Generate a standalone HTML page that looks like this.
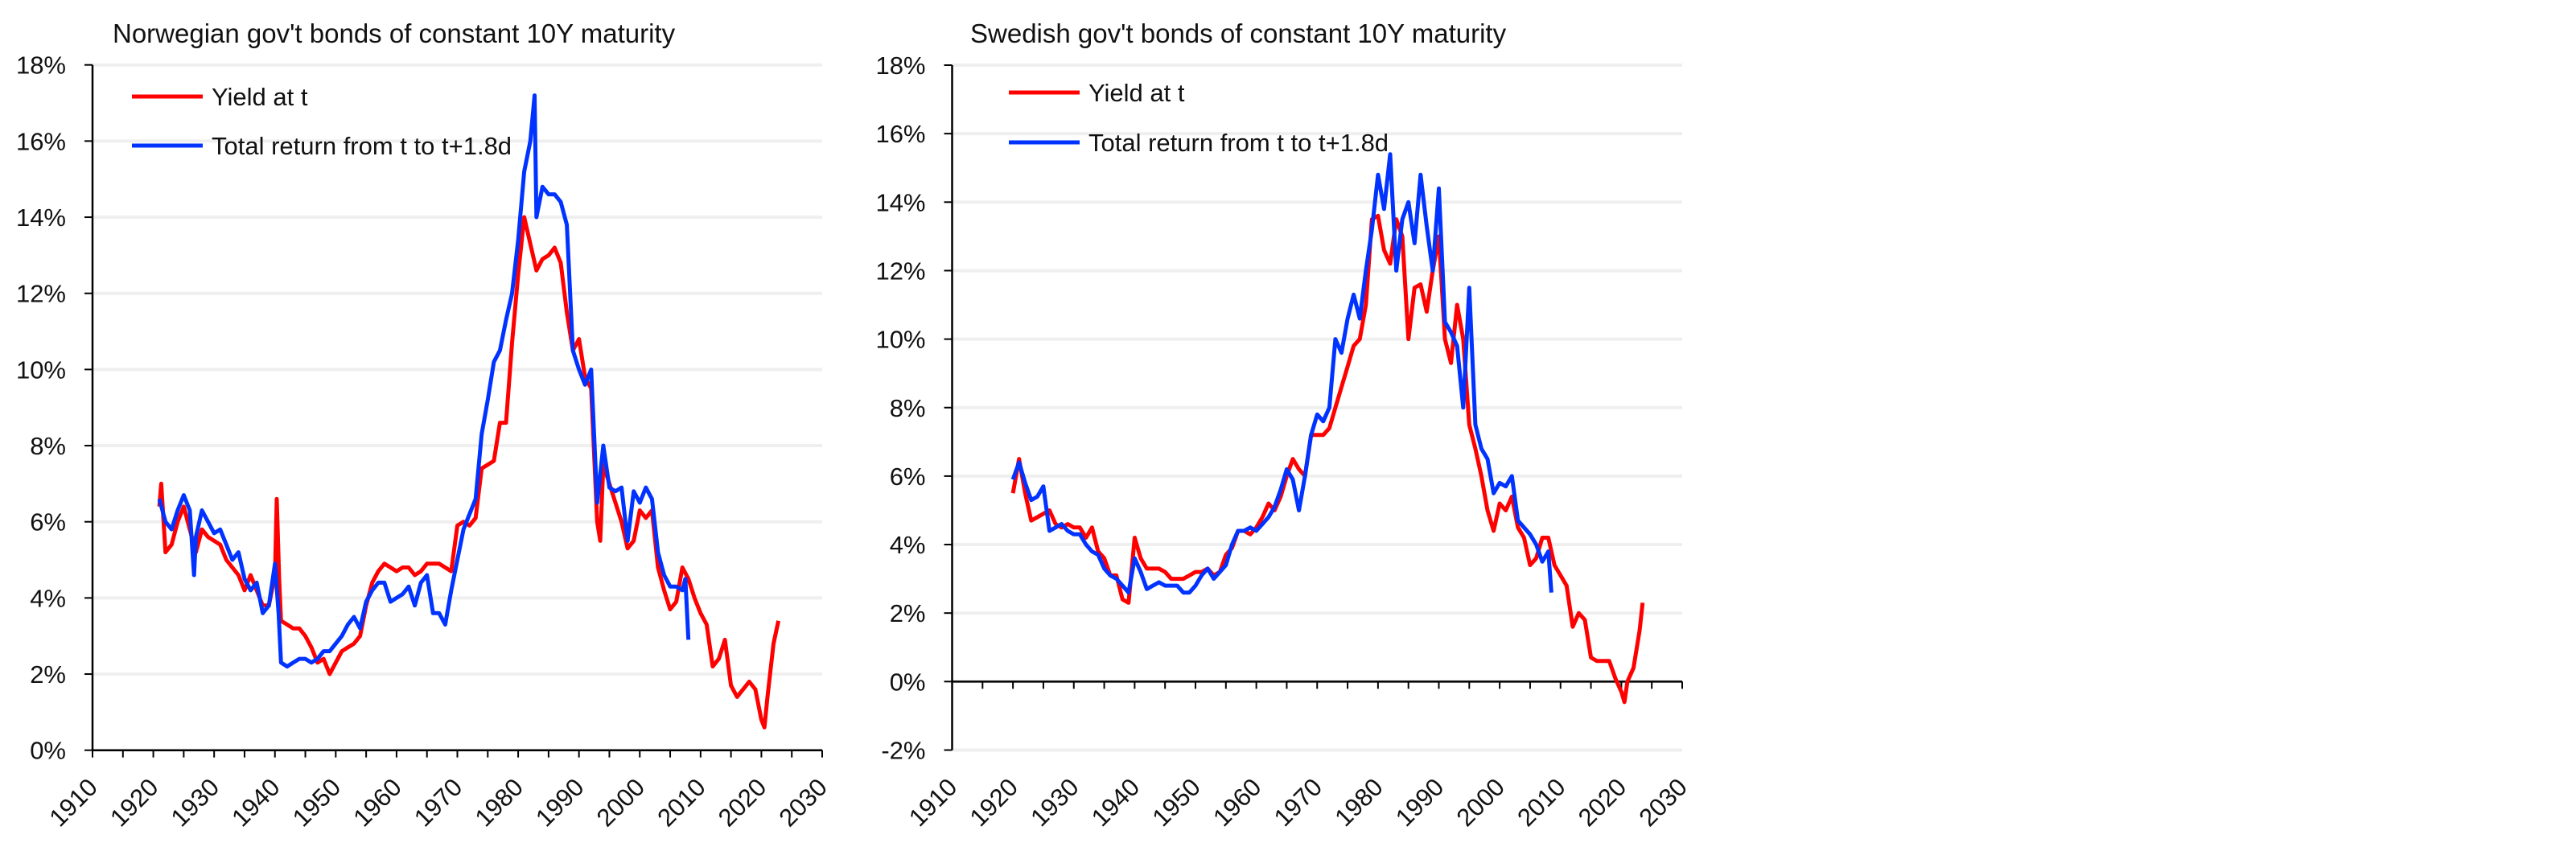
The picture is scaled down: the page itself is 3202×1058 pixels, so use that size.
<!DOCTYPE html>
<html><head><meta charset="utf-8"><style>
html,body{margin:0;padding:0;background:#fff;}
svg{display:block;font-family:"Liberation Sans",sans-serif;}
</style></head><body>
<svg id="c" width="3202" height="1058" viewBox="0 0 3202 1058" xmlns="http://www.w3.org/2000/svg"></svg>
<script>
// ---- Norway data ----
const noYieldYears=[1921,1921.3,1922,1923,1924,1925,1926,1927,1928,1929,1930,1931,1932,1933,1934,1935,1936,1937,1938,1939,1940,1940.3,1940.7,1941,1942,1943,1944,1945,1946,1947,1948,1949,1950,1951,1952,1953,1954,1955,1956,1957,1958,1959,1960,1961,1962,1963,1964,1965,1966,1967,1968,1969,1970,1971,1972,1973,1974,1975,1976,1977,1978,1979,1980,1981,1982,1983,1984,1985,1986,1987,1988,1989,1990,1991,1992,1993,1993.5,1994,1995,1996,1997,1998,1999,2000,2001,2002,2003,2004,2005,2006,2007,2008,2009,2010,2011,2012,2013,2014,2015,2016,2017,2018,2019,2020,2020.5,2021,2022,2022.8];
const noYield=[6.4,7.0,5.2,5.4,6.0,6.4,5.8,5.2,5.8,5.6,5.5,5.4,5.0,4.8,4.6,4.2,4.6,4.2,3.8,3.8,4.6,6.6,4.5,3.4,3.3,3.2,3.2,3.0,2.7,2.3,2.4,2.0,2.3,2.6,2.7,2.8,3.0,3.8,4.4,4.7,4.9,4.8,4.7,4.8,4.8,4.6,4.7,4.9,4.9,4.9,4.8,4.7,5.9,6.0,5.9,6.1,7.4,7.5,7.6,8.6,8.6,10.7,12.5,14.0,13.3,12.6,12.9,13.0,13.2,12.8,11.5,10.5,10.8,9.8,9.5,6.0,5.5,7.5,7.0,6.5,6.0,5.3,5.5,6.3,6.1,6.3,4.8,4.2,3.7,3.9,4.8,4.5,4.0,3.6,3.3,2.2,2.4,2.9,1.7,1.4,1.6,1.8,1.6,0.8,0.6,1.4,2.8,3.4];
const noRetYears=[1921,1922,1923,1924,1925,1926,1926.7,1927,1928,1929,1930,1931,1932,1933,1934,1935,1936,1937,1938,1939,1940,1940.6,1941,1942,1943,1944,1945,1946,1947,1948,1949,1950,1951,1952,1953,1954,1955,1956,1957,1958,1959,1960,1961,1962,1963,1964,1965,1966,1967,1968,1969,1970,1971,1972,1973,1974,1975,1976,1977,1978,1979,1980,1981,1982,1982.7,1983,1984,1985,1986,1987,1988,1989,1990,1991,1992,1993,1994,1995,1996,1997,1998,1999,2000,2001,2002,2003,2004,2005,2006,2007,2007.5,2008];
const noRet=[6.6,6.0,5.8,6.3,6.7,6.3,4.6,5.6,6.3,6.0,5.7,5.8,5.4,5.0,5.2,4.5,4.2,4.4,3.6,3.8,4.9,3.6,2.3,2.2,2.3,2.4,2.4,2.3,2.4,2.6,2.6,2.8,3.0,3.3,3.5,3.2,3.9,4.2,4.4,4.4,3.9,4.0,4.1,4.3,3.8,4.4,4.6,3.6,3.6,3.3,4.2,5.0,5.8,6.2,6.6,8.3,9.2,10.2,10.5,11.3,12.0,13.4,15.2,16.0,17.2,14.0,14.8,14.6,14.6,14.4,13.8,10.5,10.0,9.6,10.0,6.5,8.0,6.9,6.8,6.9,5.5,6.8,6.5,6.9,6.6,5.2,4.6,4.3,4.3,4.2,4.5,2.9];
// ---- Sweden data ----
const seYieldYears=[1920,1921,1922,1923,1924,1925,1926,1927,1928,1929,1930,1931,1932,1933,1934,1935,1936,1937,1938,1939,1940,1941,1942,1943,1944,1945,1946,1947,1948,1949,1950,1951,1952,1953,1954,1955,1956,1957,1958,1959,1960,1961,1962,1963,1964,1965,1966,1967,1968,1969,1970,1971,1972,1973,1974,1975,1976,1977,1978,1979,1980,1981,1982,1983,1984,1985,1986,1987,1988,1989,1990,1991,1992,1993,1994,1995,1996,1997,1998,1999,2000,2001,2002,2003,2004,2005,2006,2007,2008,2009,2010,2011,2012,2013,2014,2015,2016,2017,2018,2019,2020,2020.5,2021,2022,2023,2023.5];
const seYield=[5.5,6.5,5.5,4.7,4.8,4.9,5.0,4.6,4.5,4.6,4.5,4.5,4.2,4.5,3.8,3.6,3.1,3.1,2.4,2.3,4.2,3.6,3.3,3.3,3.3,3.2,3.0,3.0,3.0,3.1,3.2,3.2,3.3,3.1,3.2,3.7,3.9,4.4,4.4,4.3,4.5,4.8,5.2,5.0,5.4,6.0,6.5,6.2,6.0,7.2,7.2,7.2,7.4,8.0,8.6,9.2,9.8,10.0,11.0,13.5,13.6,12.6,12.2,13.5,13.0,10.0,11.5,11.6,10.8,12.0,13.0,10.0,9.3,11.0,10.0,7.5,6.8,6.0,5.0,4.4,5.2,5.0,5.4,4.5,4.2,3.4,3.6,4.2,4.2,3.4,3.1,2.8,1.6,2.0,1.8,0.7,0.6,0.6,0.6,0.1,-0.3,-0.6,0.0,0.4,1.5,2.3];
const seRetYears=[1920,1921,1922,1923,1924,1925,1926,1927,1928,1929,1930,1931,1932,1933,1934,1935,1936,1937,1938,1939,1940,1941,1942,1943,1944,1945,1946,1947,1948,1949,1950,1951,1952,1953,1954,1955,1956,1957,1958,1959,1960,1961,1962,1963,1964,1965,1966,1967,1968,1969,1970,1971,1972,1973,1974,1975,1976,1977,1978,1979,1980,1981,1982,1983,1984,1985,1986,1987,1988,1989,1990,1991,1992,1993,1994,1995,1996,1997,1998,1999,2000,2001,2002,2003,2004,2005,2006,2007,2008,2008.5];
const seRet=[5.9,6.4,5.8,5.3,5.4,5.7,4.4,4.5,4.6,4.4,4.3,4.3,4.0,3.8,3.7,3.3,3.1,3.0,2.8,2.6,3.6,3.2,2.7,2.8,2.9,2.8,2.8,2.8,2.6,2.6,2.8,3.1,3.3,3.0,3.2,3.4,4.0,4.4,4.4,4.5,4.4,4.6,4.8,5.1,5.6,6.2,5.9,5.0,6.0,7.2,7.8,7.6,8.0,10.0,9.6,10.6,11.3,10.6,12.0,13.2,14.8,13.8,15.4,12.0,13.5,14.0,12.8,14.8,13.3,12.0,14.4,10.5,10.2,9.8,8.0,11.5,7.5,6.8,6.5,5.5,5.8,5.7,6.0,4.7,4.5,4.3,4.0,3.5,3.8,2.6];
const xTicks=[1910,1920,1930,1940,1950,1960,1970,1980,1990,2000,2010,2020,2030];
const noYTicks=[0,2,4,6,8,10,12,14,16,18];
const seYTicks=[-2,0,2,4,6,8,10,12,14,16,18];

const svg=document.getElementById('c');
const NS='http://www.w3.org/2000/svg';
function mk(tag,attrs,parent){const e=document.createElementNS(NS,tag);for(const k in attrs)e.setAttribute(k,attrs[k]);(parent||svg).appendChild(e);return e;}

function drawChart(cfg){
  const g=mk('g',{});
  
  
  const x=yr=>cfg.x0+(yr-1910)/120*(cfg.x1-cfg.x0);
  const y=v=>cfg.yTop+(cfg.ymax-v)/(cfg.ymax-cfg.ymin)*(cfg.yBot-cfg.yTop);
  const t=mk('text',{x:cfg.titleX,y:53,'font-size':33,fill:'#111'},g);
  t.textContent=cfg.title;
  
  
  cfg.yTicks.forEach(v=>{
    const gl=mk('line',{x1:cfg.x0,x2:cfg.x1,y1:y(v),y2:y(v),stroke:'#efefef','stroke-width':4},g);
    
    
    mk('line',{x1:cfg.x0-10,x2:cfg.x0,y1:y(v),y2:y(v),stroke:'#000','stroke-width':2},g);
    const lb=mk('text',{x:cfg.x0-33,y:y(v)+11,'font-size':31,'text-anchor':'end',fill:'#111'},g);
    lb.textContent=v+'%';
    
    
  });
  const ax=mk('line',{x1:cfg.x0,x2:cfg.x0,y1:y(cfg.ymax),y2:y(cfg.ymin),stroke:'#000','stroke-width':2.5},g);
  
  
  const xa=mk('line',{x1:cfg.x0,x2:cfg.x1,y1:y(0),y2:y(0),stroke:'#000','stroke-width':2.5},g);
  
  
  for(let yr=1910;yr<=2030;yr+=5){
    mk('line',{x1:x(yr),x2:x(yr),y1:y(0),y2:y(0)+9,stroke:'#000','stroke-width':2},g);
  }
  xTicks.forEach(yr=>{
    const tx=x(yr)+8, ty=cfg.yBot+48;
    const lb=mk('text',{transform:`translate(${tx},${ty}) rotate(-45)`,'font-size':31,'text-anchor':'end',fill:'#111'},g);
    lb.textContent=yr;
    
    
  });
  const line=(ys,vs,col,nm)=>{
    const d=ys.map((yr,i)=>(i?'L':'M')+x(yr).toFixed(1)+','+y(vs[i]).toFixed(1)).join('');
    const p=mk('path',{d:d,fill:'none',stroke:col,'stroke-width':5,'stroke-linejoin':'round'},g);
    
    
  };
  line(cfg.yy,cfg.yv,'#ff0000','yield-line');
  line(cfg.ry,cfg.rv,'#0033ff','total-return-line');
  const leg=[['Yield at t','#ff0000',cfg.legY1],['Total return from t to t+1.8d','#0033ff',cfg.legY2]];
  leg.forEach(([txt,col,ly])=>{
    const le=mk('g',{},g);
    
    
    mk('line',{x1:cfg.legX,x2:cfg.legX+88,y1:ly,y2:ly,stroke:col,'stroke-width':5},le);
    const tt=mk('text',{x:cfg.legX+99,y:ly+11,'font-size':31,fill:'#111'},le);
    tt.textContent=txt;
  });
}
drawChart({name:'norway-chart',title:"Norwegian gov't bonds of constant 10Y maturity",titleX:140,x0:115,x1:1022,yTop:80.7,yBot:932.7,ymin:0,ymax:18,yTicks:noYTicks,yy:noYieldYears,yv:noYield,ry:noRetYears,rv:noRet,legX:164,legY1:120,legY2:181});
drawChart({name:'sweden-chart',title:"Swedish gov't bonds of constant 10Y maturity",titleX:1206,x0:1183.5,x1:2091,yTop:81,yBot:932.5,ymin:-2,ymax:18,yTicks:seYTicks,yy:seYieldYears,yv:seYield,ry:seRetYears,rv:seRet,legX:1254,legY1:115,legY2:177});
</script>
</body></html>
